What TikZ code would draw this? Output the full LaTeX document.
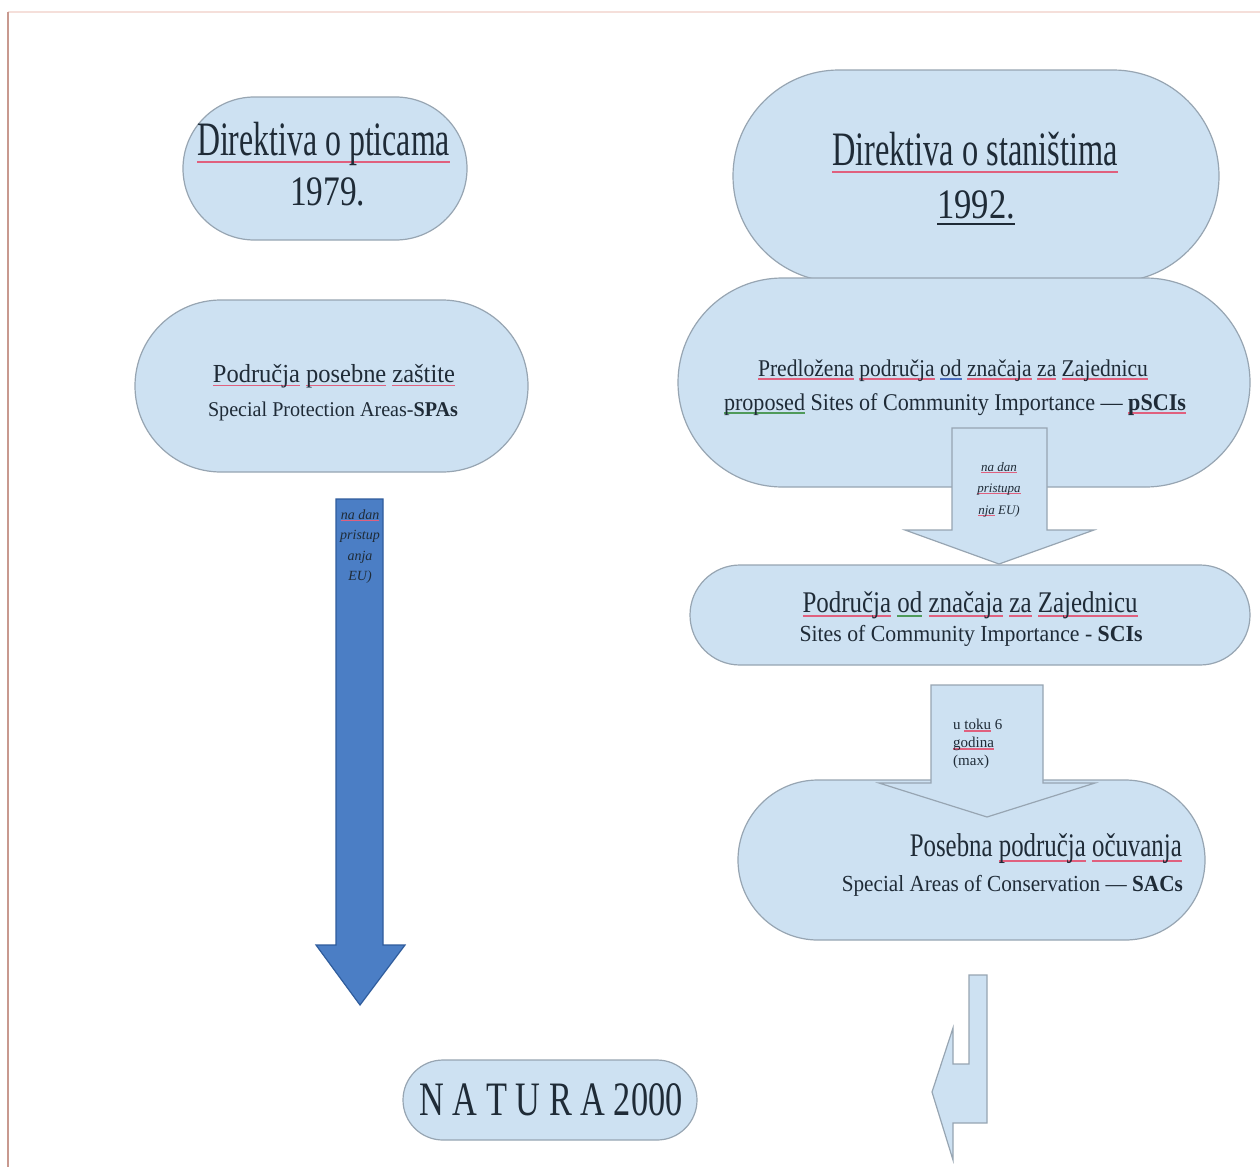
\documentclass[tikz,border=0pt]{standalone}
\usepackage{fontspec}
\setmainfont{Liberation Serif}
\usepackage{graphicx}
\usetikzlibrary{shapes.misc}
\definecolor{boxfill}{HTML}{CDE1F2}
\definecolor{boxline}{HTML}{97A5B2}
\definecolor{bluefill}{HTML}{4B7EC5}
\definecolor{blueline}{HTML}{2F5C9C}
\definecolor{txt}{HTML}{1F2B37}
\definecolor{spred}{HTML}{E0607E}
\definecolor{spgreen}{HTML}{4F9A5A}
\definecolor{spblue}{HTML}{4C6FC0}
\definecolor{frameA}{HTML}{C8998F}
\definecolor{frameB}{HTML}{F5DFDA}
\newcommand\ft[3]{\resizebox{#1pt}{\height}{\fontsize{#2}{#2}\selectfont #3}}
\newcommand\fs[2]{{\fontsize{#1}{#1}\selectfont #2}}
\newcommand\uln[2]{\setbox0=\hbox{#2}\rlap{\textcolor{#1}{\rule[-0.17em]{\wd0}{1.7pt}}}\box0\relax}
\newcommand\rd[1]{\uln{spred}{#1}}
\newcommand\gr[1]{\uln{spgreen}{#1}}
\newcommand\bl[1]{\uln{spblue}{#1}}
\begin{document}
\begin{tikzpicture}[x=1pt,y=-1pt,
  stad/.style={rounded rectangle, draw=boxline, fill=boxfill, line width=1.2pt, inner sep=0pt},
  blk/.style={draw=boxline, fill=boxfill, line width=1.2pt, line join=miter},
  bigblk/.style={draw=blueline, fill=bluefill, line width=1.2pt, line join=miter},
  lbl/.style={text=txt, inner sep=0pt, anchor=base}]
\useasboundingbox (0,0) rectangle (1260,1167);
\fill[white] (0,0) rectangle (1260,1167);
% frame
\draw[frameB, line width=1.5pt] (8,12) -- (1260,12);
\draw[frameA, line width=2pt] (8,12) -- (8,1167);

% left column
\node[stad, minimum width=284pt, minimum height=143pt] (a1) at (325,168.5) {};
\node[stad, minimum width=393pt, minimum height=172pt] (a2) at (331.5,386) {};
\draw[bigblk] (336,499) -- (383,499) -- (383,945) -- (405,945) -- (360,1005) -- (316,945) -- (336,945) -- cycle;

% right column
\node[stad, minimum width=486pt, minimum height=212pt] (b1) at (976,176) {};
\node[stad, minimum width=572pt, minimum height=209pt] (b2) at (964,382.5) {};
\draw[blk] (952,428) -- (1047,428) -- (1047,530) -- (1094,530) -- (999,564) -- (905,530) -- (952,530) -- cycle;
\node[stad, minimum width=560pt, minimum height=100pt] (b3) at (970,615) {};
\node[stad, minimum width=467pt, minimum height=160pt] (b4) at (971.5,860) {};
\draw[blk] (931,685) -- (1043,685) -- (1043,783) -- (1095,783) -- (987,817) -- (879,783) -- (931,783) -- cycle;
\draw[blk] (969,1064) -- (969,975) -- (987,975) -- (987,1123) -- (953,1123) -- (953,1160) -- (932,1092) -- (953,1028) -- (953,1064) -- cycle;

% natura
\node[stad, minimum width=294pt, minimum height=80pt] (n) at (550,1100) {};

% texts
\node[lbl] (ta1) at (323.5,155) {\ft{253}{48}{\rd{Direktiva o pticama}}};
\node[lbl] (ta1b) at (327.5,205) {\ft{75}{42}{1979.}};
\node[lbl] (ta2) at (334,382) {\ft{242}{26}{\rd{Područja} \rd{posebne} \rd{zaštite}}};
\node[lbl] (ta2b) at (333,416) {\ft{250}{21}{Special Protection Areas-\textbf{SPAs}}};

\node[lbl] (tar1) at (360,519) {\fs{14}{\itshape \rd{na dan}}};
\node[lbl] (tar2) at (360,539) {\fs{14}{\itshape pristup}};
\node[lbl] (tar3) at (360,560) {\fs{14}{\itshape anja}};
\node[lbl] (tar4) at (360,580) {\fs{14}{\itshape EU)}};

\node[lbl] (tb1) at (975,165) {\ft{286}{48}{\rd{Direktiva o staništima}}};
\node[lbl] (tb1b) at (976,218) {\ft{78}{42}{\uln{txt}{1992.}}};
\node[lbl] (tb2) at (953,376) {\ft{390}{24}{\rd{Predložena} \rd{područja} \bl{od} \rd{značaja} \rd{za} \rd{Zajednicu}}};
\node[lbl] (tb2b) at (955,410) {\ft{462}{24}{\gr{proposed} Sites of Community Importance — \rd{\textbf{pSCIs}}}};

\node[lbl] (tr1) at (999,471) {\fs{13}{\itshape \rd{na dan}}};
\node[lbl] (tr2) at (999,492) {\fs{13}{\itshape \rd{pristupa}}};
\node[lbl] (tr3) at (999,514) {\fs{13}{\itshape \rd{nja} EU)}};

\node[lbl] (tb3) at (970,612) {\ft{335}{30}{\rd{Područja} \gr{od} \rd{značaja} \rd{za} \rd{Zajednicu}}};
\node[lbl] (tb3b) at (971,641) {\ft{343}{23}{Sites of Community Importance - \textbf{SCIs}}};

\node[lbl, anchor=base west] (ts1) at (953,729) {\fs{15}{u \rd{toku} 6}};
\node[lbl, anchor=base west] (ts2) at (953,747) {\fs{15}{\rd{godina}}};
\node[lbl, anchor=base west] (ts3) at (953,765) {\fs{15}{(max)}};

\node[lbl, anchor=base east] (tb4) at (1182,856) {\ft{272}{33}{Posebna \rd{područja} \rd{očuvanja}}};
\node[lbl, anchor=base east] (tb4b) at (1183,891) {\ft{341}{23}{Special Areas of Conservation — \textbf{SACs}}};

\node[lbl] (tn) at (551,1115) {\ft{263}{48}{N A T U R A 2000}};
\end{tikzpicture}
\end{document}
